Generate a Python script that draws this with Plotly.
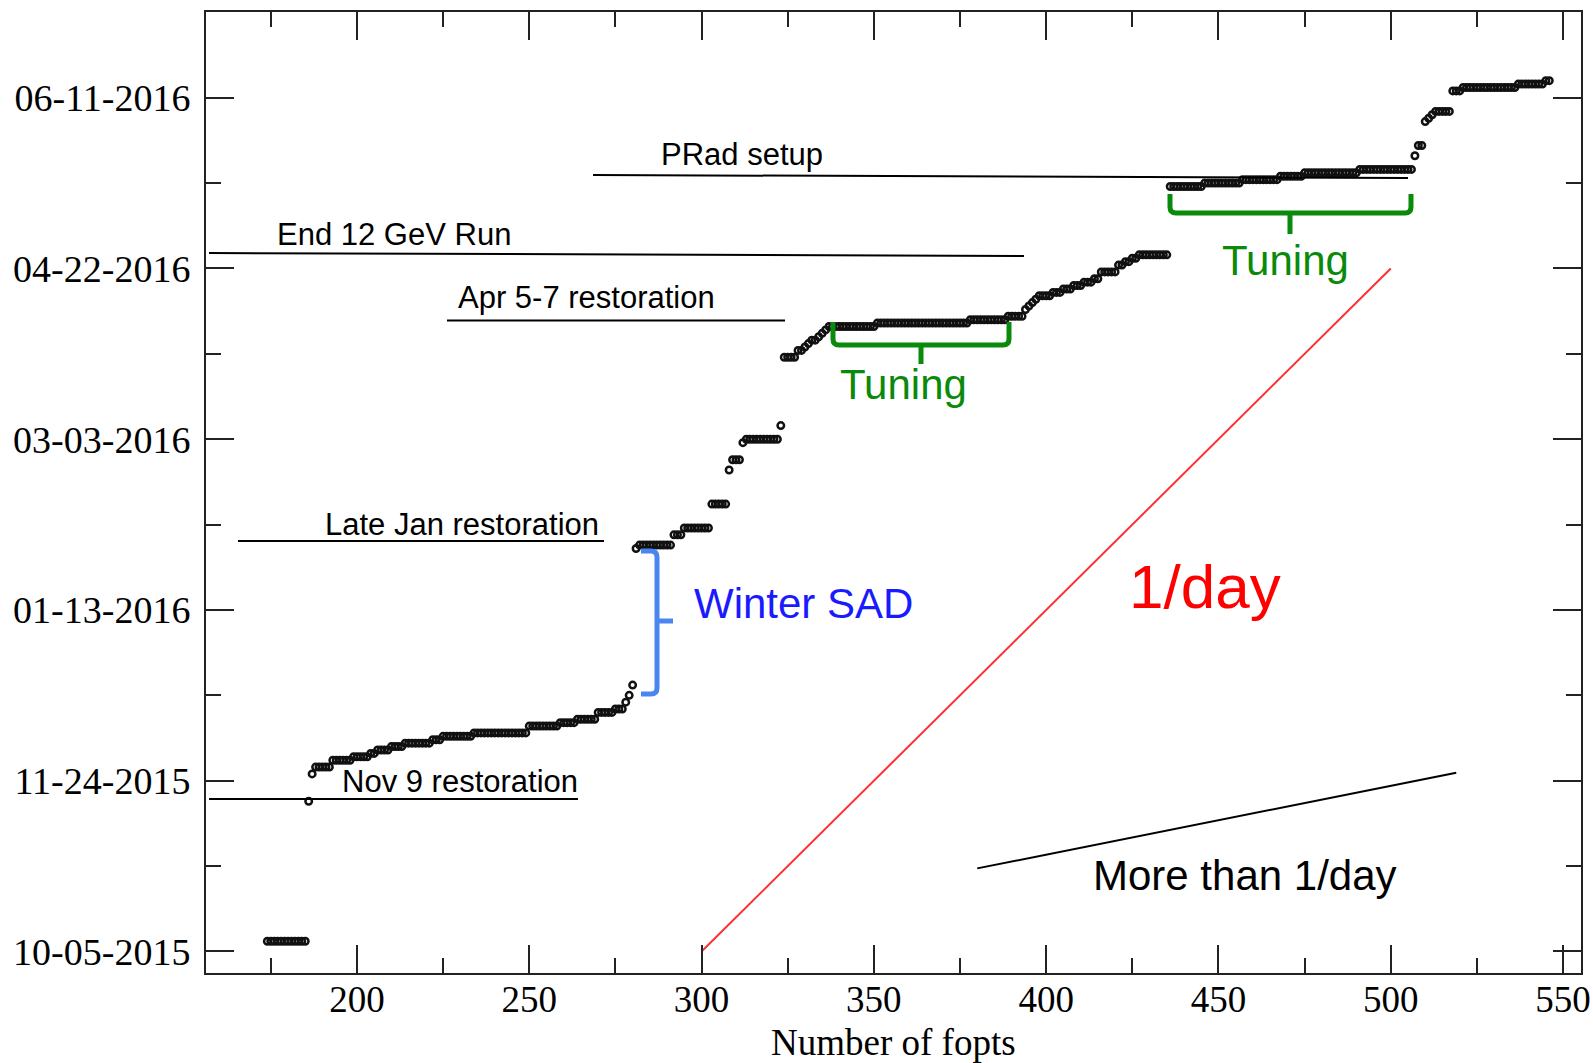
import plotly.graph_objects as go

# ---------------- data ----------------
# runs of consecutive fopts that share the same date
run_start = [174, 186, 187, 188, 193, 199, 204, 206, 210, 214, 222, 225, 234, 250, 259, 264,
             270, 275, 278, 279, 280,
             281, 282, 292, 295, 303, 308, 309, 312, 313, 323,
             324, 328, 330, 331, 332, 334, 335, 336, 337, 351, 378, 389,
             394, 395, 396, 397, 398, 402, 405, 408, 411, 414, 416, 421, 423, 425, 427,
             436, 446, 457, 468, 475, 491, 507, 508, 510, 511, 512, 513, 518, 521, 537, 545]
run_date = ['2015-10-08', '2015-11-18', '2015-11-26', '2015-11-28', '2015-11-30', '2015-12-01',
            '2015-12-02', '2015-12-03', '2015-12-04', '2015-12-05', '2015-12-06', '2015-12-07',
            '2015-12-08', '2015-12-10', '2015-12-11', '2015-12-12', '2015-12-14', '2015-12-15',
            '2015-12-17', '2015-12-19', '2015-12-22',
            '2016-01-31', '2016-02-01', '2016-02-04', '2016-02-06', '2016-02-13', '2016-02-23',
            '2016-02-26', '2016-03-02', '2016-03-03', '2016-03-07',
            '2016-03-27', '2016-03-29', '2016-03-30', '2016-03-31', '2016-04-01', '2016-04-02',
            '2016-04-03', '2016-04-04', '2016-04-05', '2016-04-06', '2016-04-07', '2016-04-08',
            '2016-04-10', '2016-04-11', '2016-04-12', '2016-04-13', '2016-04-14', '2016-04-15',
            '2016-04-16', '2016-04-17', '2016-04-18', '2016-04-19', '2016-04-21', '2016-04-23',
            '2016-04-24', '2016-04-25', '2016-04-26',
            '2016-05-16', '2016-05-17', '2016-05-18', '2016-05-19', '2016-05-20', '2016-05-21',
            '2016-05-25', '2016-05-28', '2016-06-04', '2016-06-05', '2016-06-06', '2016-06-07',
            '2016-06-13', '2016-06-14', '2016-06-15', '2016-06-16']
last_fopt = 546

# reference slopes
rate_x = [300, 500]
rate_y = ['2015-10-05', '2016-04-22']
more_x = [380, 519]
more_y = ['2015-10-29 08:00', '2015-11-26 08:00']

# ---------------- expand runs into points ----------------
fopts, dates = [], []
ends = run_start[1:] + [last_fopt + 1]
for s, e, d in zip(run_start, ends, run_date):
    for f in range(s, e):
        fopts.append(f)
        dates.append(d)

# ---------------- layout helpers ----------------
L, T, W, H = 206, 12, 1375, 961
def px(x):
    return (x - L) / W
def py(y):
    return (T + H - y) / H

SANS = 'Liberation Sans, Arial, sans-serif'
SERIF = 'Liberation Serif, Times New Roman, serif'
GREEN = '#0a8a0a'
DAY = 86400000

fig = go.Figure()
fig.add_trace(go.Scatter(x=fopts, y=dates, mode='markers',
                         marker=dict(symbol='circle-open', size=6.5, color='#111111',
                                     line=dict(width=2.5, color='#111111')),
                         showlegend=False, hoverinfo='x+y'))
fig.add_trace(go.Scatter(x=rate_x, y=rate_y, mode='lines',
                         line=dict(color='#ff3030', width=2), showlegend=False))
fig.add_trace(go.Scatter(x=more_x, y=more_y, mode='lines',
                         line=dict(color='#000000', width=2), showlegend=False))

shapes = []
# label underlines (px coords -> paper)
for x0, x1, y0, y1 in [(593, 1408, 175, 178), (209, 1024, 253, 256), (447, 785, 320.5, 320.5),
                       (238, 604, 541, 541), (209, 578, 799, 799)]:
    shapes.append(dict(type='line', xref='paper', yref='paper', x0=px(x0), x1=px(x1),
                       y0=py(y0), y1=py(y1), line=dict(color='black', width=2)))

def P(x, y):
    return f'{px(x):.5f},{py(y):.5f}'

def bracket_down(xl, xr, ytop, ybar, xm, ystub):
    r = 6
    return (f'M {P(xl, ytop)} L {P(xl, ybar - r)} Q {P(xl, ybar)} {P(xl + r, ybar)} '
            f'L {P(xr - r, ybar)} Q {P(xr, ybar)} {P(xr, ybar - r)} L {P(xr, ytop)} '
            f'M {P(xm, ybar)} L {P(xm, ystub)}')

shapes.append(dict(type='path', xref='paper', yref='paper',
                   path=bracket_down(833, 1009, 322, 345, 921, 364),
                   line=dict(color=GREEN, width=5)))
shapes.append(dict(type='path', xref='paper', yref='paper',
                   path=bracket_down(1170, 1411, 194, 213, 1290, 234),
                   line=dict(color=GREEN, width=5)))
r = 6
blue_path = (f'M {P(641, 551)} L {P(657 - r, 551)} Q {P(657, 551)} {P(657, 551 + r)} '
             f'L {P(657, 694 - r)} Q {P(657, 694)} {P(657 - r, 694)} L {P(641, 694)} '
             f'M {P(657, 621)} L {P(673, 621)}')
shapes.append(dict(type='path', xref='paper', yref='paper', path=blue_path,
                   line=dict(color='#4a86f0', width=5)))

annotations = []
def txt(text, x, y, size, color='black', family=SANS, anchor='left'):
    annotations.append(dict(text=text, xref='paper', yref='paper', x=px(x), y=py(y),
                            xanchor=anchor, yanchor='middle', showarrow=False,
                            font=dict(family=family, size=size, color=color)))

txt('PRad setup', 659, 154, 31)
txt('End 12 GeV Run', 275, 234, 31)
txt('Apr 5-7 restoration', 456, 297, 31)
txt('Late Jan restoration', 323, 524, 31)
txt('Nov 9 restoration', 340, 781, 31)
txt('Tuning', 838, 384, 42, GREEN)
txt('Tuning', 1220, 260, 42, GREEN)
txt('Winter SAD', 692, 603, 42, '#1a1aff')
txt('1/day', 1127, 587, 62, '#ff0000')
txt('More than 1/day', 1091, 875, 42)
# x-axis title
txt('Number of fopts', L + W / 2, 1042, 37, 'black', SERIF, 'center')

fig.update_layout(
    width=1593, height=1063,
    margin=dict(l=L, r=1593 - L - W, t=T, b=1063 - T - H, autoexpand=False),
    paper_bgcolor='white', plot_bgcolor='white',
    shapes=shapes, annotations=annotations, showlegend=False,
    xaxis=dict(range=[156.2, 555.2], tick0=0, dtick=50, ticks='inside', ticklen=28,
               tickwidth=1.5, tickcolor='#222', showline=True, linecolor='#222', linewidth=2,
               mirror='allticks', showgrid=False, zeroline=False, automargin=False,
               minor=dict(dtick=25, tick0=0, ticks='inside', ticklen=15, tickwidth=1.5,
                          tickcolor='#222', showgrid=False),
               tickfont=dict(family=SERIF, size=37, color='black'), ticklabelstandoff=-7),
    yaxis=dict(type='date', range=['2015-09-28 16:48', '2016-07-06 02:24'],
               tick0='2015-10-05', dtick=50 * DAY, tickformat='%m-%d-%Y',
               ticks='inside', ticklen=28, tickwidth=1.5, tickcolor='#222',
               showline=True, linecolor='#222', linewidth=2, mirror='allticks',
               showgrid=False, zeroline=False, automargin=False,
               minor=dict(dtick=25 * DAY, tick0='2015-10-05', ticks='inside', ticklen=15,
                          tickwidth=1.5, tickcolor='#222', showgrid=False),
               tickfont=dict(family=SERIF, size=38, color='black'), ticklabelstandoff=6),
)

fig.write_html('out.html', config={'displayModeBar': False},
               post_script="document.body.style.margin='0px';"
                           "document.body.style.overflow='hidden';")
